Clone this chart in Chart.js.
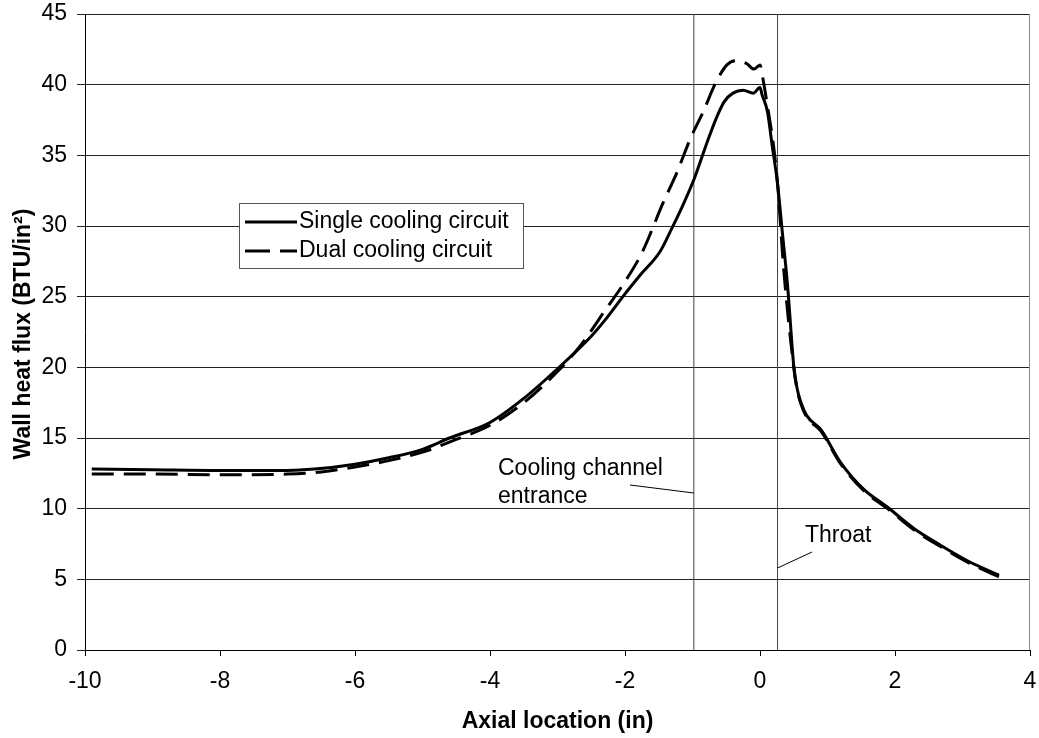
<!DOCTYPE html>
<html>
<head>
<meta charset="utf-8">
<script src="https://cdn.jsdelivr.net/npm/chart.js@4/dist/chart.umd.min.js"></script>
<style>
  html, body { margin: 0; padding: 0; background: #fff; }
  #wrap { width: 1039px; height: 738px; }
</style>
</head>
<body>
<div id="wrap"><canvas id="c" width="1039" height="738"></canvas></div>
<script>
// ---- Data ----
const singleX = [-9.9, -9, -8, -7, -6.6, -6, -5.5, -5, -4.6, -4, -3.5, -3, -2.5, -2.27, -2, -1.78, -1.48, -1.31, -1.14, -0.97, -0.8, -0.65, -0.53, -0.4, -0.25, -0.1, 0.0, 0.03, 0.11, 0.18, 0.26, 0.33, 0.41, 0.5, 0.55, 0.6, 0.69, 0.9, 1.19, 1.53, 1.89, 2.28, 2.68, 3.08, 3.54];
const singleY = [12.8, 12.75, 12.7, 12.7, 12.8, 13.15, 13.6, 14.2, 15.0, 16.1, 17.8, 19.9, 22.2, 23.5, 25.2, 26.5, 28.2, 29.8, 31.5, 33.4, 35.7, 37.6, 38.8, 39.4, 39.6, 39.4, 39.8, 39.3, 38.1, 35.7, 33.0, 29.6, 25.7, 20.1, 18.5, 17.6, 16.6, 15.6, 13.3, 11.4, 10.1, 8.6, 7.4, 6.3, 5.3];

const dualX = [-9.9, -9, -8, -7, -6.5, -6, -5.5, -5, -4.5, -4, -3.5, -3, -2.7, -2.5, -2.3, -2.05, -1.75, -1.43, -1.23, -1.03, -0.84, -0.66, -0.49, -0.37, -0.2, -0.09, 0.0, 0.04, 0.12, 0.2, 0.26, 0.35, 0.5, 0.55, 0.6, 0.69, 0.9, 1.19, 1.53, 1.89, 2.28, 2.68, 3.08, 3.55];
const dualY = [12.45, 12.45, 12.4, 12.45, 12.6, 12.95, 13.4, 14.0, 14.9, 15.9, 17.5, 19.7, 21.3, 22.6, 24.0, 25.7, 28.1, 31.7, 33.8, 36.2, 38.1, 40.1, 41.4, 41.7, 41.5, 41.1, 41.4, 40.5, 38.2, 35.7, 33.0, 27.0, 20.0, 18.4, 17.5, 16.5, 15.5, 13.2, 11.3, 10.0, 8.5, 7.3, 6.2, 5.15];

const markerX = [-0.98, 0.26];          // cooling channel entrance, throat
const markerYRange = [0, 45];

const xTicks = [-10, -8, -6, -4, -2, 0, 2, 4];
const yTicks = [0, 5, 10, 15, 20, 25, 30, 35, 40, 45];

const seriesNames = ['Single cooling circuit', 'Dual cooling circuit'];
const xTitle = 'Axial location (in)';
const yTitle = 'Wall heat flux (BTU/in²)';
const annoEntrance = ['Cooling channel', 'entrance'];
const annoThroat = 'Throat';

// ---- Build chart ----
const FONT = '"Liberation Sans", Arial, Helvetica, sans-serif';
const toPts = (xs, ys) => xs.map((x, i) => ({ x: x, y: ys[i] }));

const datasets = [
  { label: seriesNames[0], data: toPts(singleX, singleY), borderColor: '#000', borderWidth: 3,
    pointRadius: 0, fill: false, cubicInterpolationMode: 'monotone' },
  { label: seriesNames[1], data: toPts(dualX, dualY), borderColor: '#000', borderWidth: 3,
    borderDash: [22, 10], pointRadius: 0, fill: false, cubicInterpolationMode: 'monotone' }
];
markerX.forEach(mx => {
  datasets.push({ label: '_marker', data: markerYRange.map(v => ({ x: mx, y: v })),
    borderColor: '#444', borderWidth: 1, pointRadius: 0, fill: false });
});

const zeroPad = s => { s.paddingLeft = 0; s.paddingRight = 0; s.paddingTop = 0; s.paddingBottom = 0; };

const decor = {
  id: 'decor',
  afterDraw(chart) {
    const ctx = chart.ctx, ca = chart.chartArea;
    const xs = chart.scales.x;
    ctx.save();
    // right frame
    ctx.strokeStyle = '#888'; ctx.lineWidth = 1;
    ctx.beginPath(); ctx.moveTo(Math.round(ca.right) - 0.5, ca.top); ctx.lineTo(Math.round(ca.right) - 0.5, ca.bottom); ctx.stroke();

    ctx.fillStyle = '#000';
    ctx.textBaseline = 'middle';
    // axis titles
    ctx.font = 'bold 23px ' + FONT;
    ctx.textAlign = 'center';
    ctx.fillText(xTitle, (ca.left + ca.right) / 2, 722);
    ctx.save();
    ctx.translate(24, (ca.top + ca.bottom) / 2 + 2);
    ctx.rotate(-Math.PI / 2);
    ctx.fillText(yTitle, 0, 0);
    ctx.restore();

    // annotations
    ctx.font = '23px ' + FONT;
    ctx.textAlign = 'left';
    ctx.fillText(annoEntrance[0], 498, 469);
    ctx.fillText(annoEntrance[1], 498, 497);
    ctx.fillText(annoThroat, 805, 536);
    ctx.strokeStyle = '#000'; ctx.lineWidth = 1;
    ctx.beginPath(); ctx.moveTo(630, 485); ctx.lineTo(xs.getPixelForValue(markerX[0]), 493); ctx.stroke();
    ctx.beginPath(); ctx.moveTo(812, 552); ctx.lineTo(xs.getPixelForValue(markerX[1]), 568); ctx.stroke();

    // legend
    const lx = 239.5, ly = 203.5, lw = 284, lh = 65;
    ctx.fillStyle = '#fff';
    ctx.fillRect(lx, ly, lw, lh);
    ctx.strokeStyle = '#555'; ctx.lineWidth = 1;
    ctx.strokeRect(lx, ly, lw, lh);
    ctx.strokeStyle = '#000'; ctx.lineWidth = 3;
    ctx.beginPath(); ctx.moveTo(245, 222); ctx.lineTo(297, 222); ctx.stroke();
    ctx.setLineDash([25, 10]);
    ctx.beginPath(); ctx.moveTo(245, 251); ctx.lineTo(297, 251); ctx.stroke();
    ctx.setLineDash([]);
    ctx.fillStyle = '#000';
    ctx.font = '23px ' + FONT;
    ctx.fillText(seriesNames[0], 299, 222);
    ctx.fillText(seriesNames[1], 299, 251);
    ctx.restore();
  }
};

new Chart(document.getElementById('c'), {
  type: 'line',
  data: { datasets: datasets },
  options: {
    responsive: false,
    animation: false,
    events: [],
    layout: { padding: { top: 14, right: 9, left: 0, bottom: 0 } },
    plugins: { legend: { display: false }, tooltip: { enabled: false }, title: { display: false } },
    scales: {
      x: {
        type: 'linear', min: xTicks[0], max: xTicks[xTicks.length - 1],
        afterBuildTicks: s => { s.ticks = xTicks.map(v => ({ value: v })); },
        afterFit: s => { s.height = 88; zeroPad(s); },
        ticks: { color: '#000', font: { family: FONT, size: 23 }, padding: 12, maxRotation: 0, autoSkip: false },
        grid: { drawOnChartArea: false, drawTicks: true, tickLength: 6, color: '#000', lineWidth: 1 },
        border: { display: true, color: '#000', width: 1 }
      },
      y: {
        type: 'linear', min: yTicks[0], max: yTicks[yTicks.length - 1],
        afterBuildTicks: s => { s.ticks = yTicks.map(v => ({ value: v })); },
        afterFit: s => { s.width = 85; zeroPad(s); },
        ticks: { color: '#000', font: { family: FONT, size: 23 }, padding: 10, autoSkip: false },
        grid: { drawOnChartArea: true, drawTicks: true, tickLength: 8, color: '#222', lineWidth: 1 },
        border: { display: true, color: '#000', width: 1 }
      }
    }
  },
  plugins: [decor]
});
</script>
</body>
</html>
